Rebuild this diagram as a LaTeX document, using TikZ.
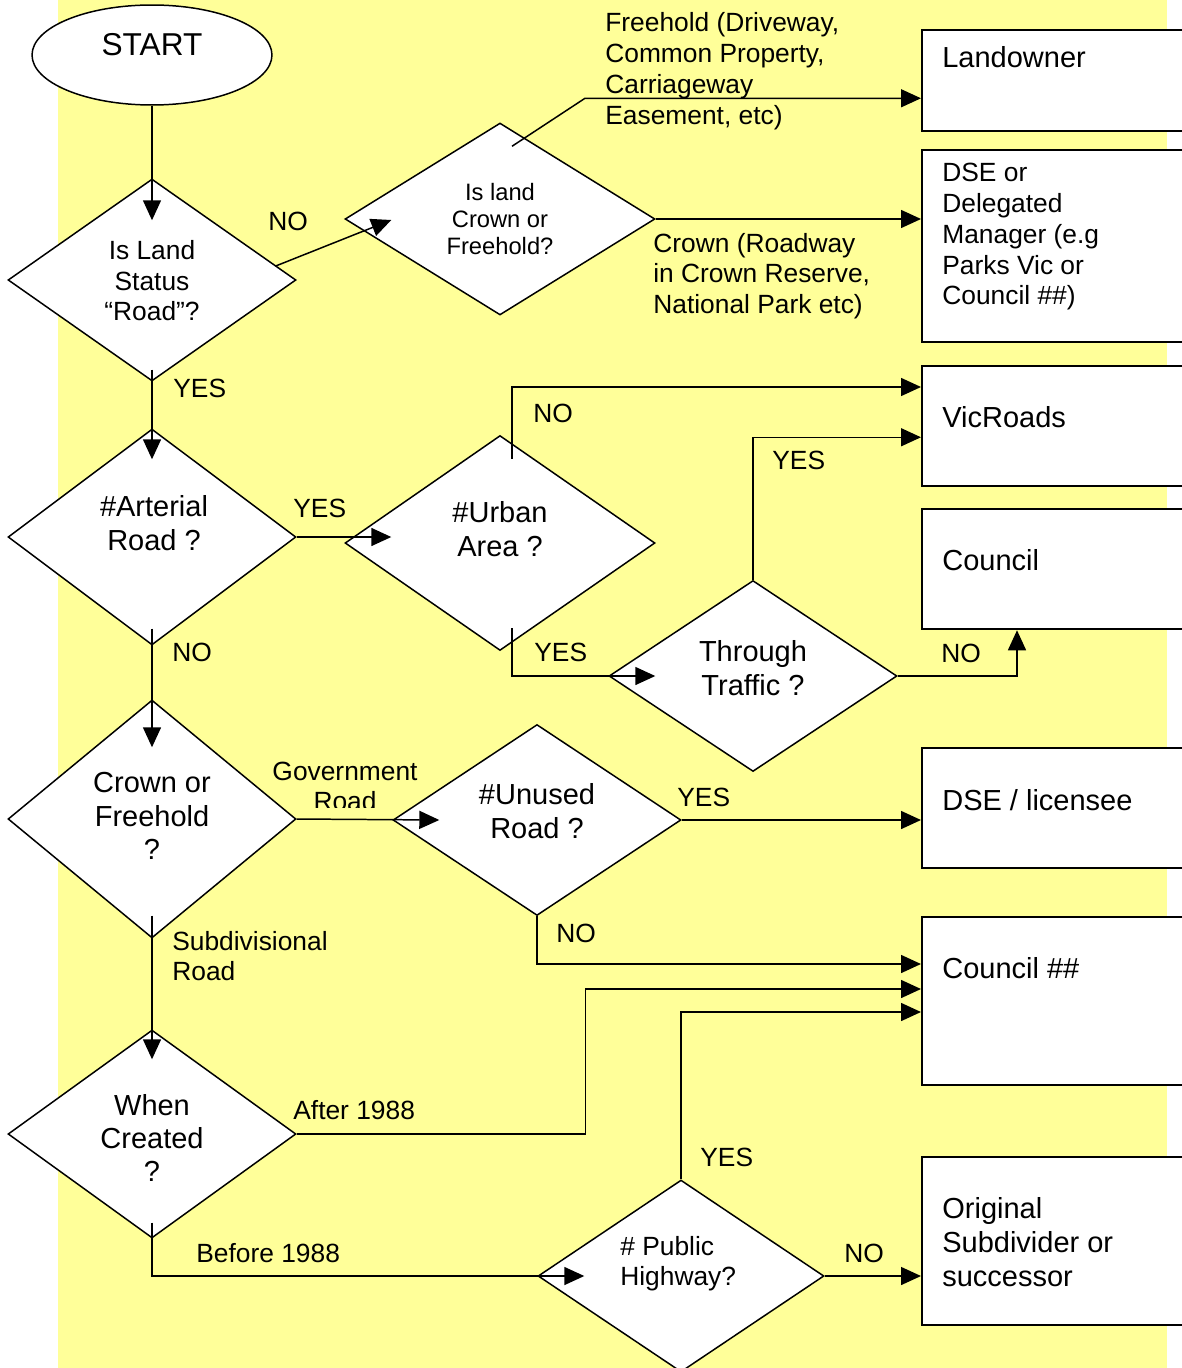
\documentclass[tikz,border=0pt]{standalone}
\usepackage{fontspec}
\setmainfont{Liberation Sans}
\usepackage{tikz}
\usetikzlibrary{shapes.geometric, arrows.meta}
\usetikzlibrary{calc}
\definecolor{noteYellow}{HTML}{FFFF99}

\begin{document}
\begin{tikzpicture}[
  x=0.02cm, y=-0.02cm,
  flow/.style={line width=0.85pt, -{Triangle[length=0.4cm, width=0.36cm]}},
  edgeLabel/.style={anchor=west, inner sep=0pt, align=left, font=\fontsize{15}{17.5}\selectfont},
  boxLabel/.style={anchor=west, inner sep=0pt, align=left, font=\fontsize{16.5}{19.4}\selectfont},
  askLabel/.style={inner sep=0pt, align=center, font=\fontsize{16.5}{19}\selectfont}
]
	\tikzstyle{decision} = [diamond, draw=black, fill=white, line width=0.85pt, inner sep=0pt]
	\tikzstyle{outcome} = [rectangle, draw=black, fill=white, line width=1.3pt, anchor=north west, minimum width=5.4cm, inner sep=0pt]
	\tikzstyle{terminal} = [ellipse, draw=black, fill=white, line width=0.85pt, minimum width=4.8cm, minimum height=2cm, inner sep=0pt]

	% sheet
	\useasboundingbox (0,0) rectangle (1182,1368);
	\clip (0,0) rectangle (1182,1368);
	\fill[white] (0,0) rectangle (1182,1368);
	\fill[noteYellow] (58,0) rectangle (1167,1368);

	% questions
	\node (start) [terminal] at (152,55) {};
	\node (isRoad) [decision, minimum width=5.76cm, minimum height=4.04cm] at (152,280) {};
	\node (crownFree) [decision, minimum width=6.2cm, minimum height=3.84cm] at (500,219) {};
	\node (arterial) [decision, minimum width=5.76cm, minimum height=4.32cm] at (152,537) {};
	\node (urban) [decision, minimum width=6.2cm, minimum height=4.3cm] at (500,543) {};
	\node (through) [decision, minimum width=5.76cm, minimum height=3.82cm] at (753,676) {};
	\node (tenure) [decision, minimum width=5.76cm, minimum height=4.76cm] at (152,819) {};
	\node (unused) [decision, minimum width=5.76cm, minimum height=3.82cm] at (537,820) {};
	\node (created) [decision, minimum width=5.76cm, minimum height=4.16cm] at (152,1134) {};
	\node (highway) [decision, minimum width=5.72cm, minimum height=3.84cm] at (681,1276) {};

	% who looks after it
	\node (landowner) [outcome, minimum height=2.02cm] at (921,29) {};
	\node (dseManager) [outcome, minimum height=3.84cm] at (921,149) {};
	\node (vicroads) [outcome, minimum height=2.4cm] at (921,365) {};
	\node (council) [outcome, minimum height=2.4cm] at (921,508) {};
	\node (dseLicensee) [outcome, minimum height=2.4cm] at (921,747) {};
	\node (councilHash) [outcome, minimum height=3.36cm] at (921,916) {};
	\node (subdivider) [outcome, minimum height=3.36cm] at (921,1156) {};

	% connectors
	\draw[flow] (start.south) -- ($(isRoad.north)+(0,42)$);
	\draw[flow] ($(isRoad.east)+(-21,-14)$) -- ($(crownFree.west)+(47,1)$);
	\draw[flow] ($(crownFree.north)+(12,24)$) -- ++(73,-48) coordinate (freeBend) -- (freeBend -| landowner.west);
	\draw[flow] (crownFree.east) -- (dseManager.west |- crownFree.east);
	\draw[flow] ($(isRoad.south)+(0,-12)$) -- ($(arterial.north)+(0,31)$);
	\draw[flow] (arterial.east) -- ($(urban.west)+(47,-6)$);
	\draw[flow] ($(urban.north)+(12,24)$) |- ($(vicroads.north west)+(0,22)$);
	\draw[flow] ($(urban.south)+(12,-23)$) |- ($(through.west)+(47,0)$);
	\draw[flow] (through.north) |- ($(vicroads.south west)+(0,-50)$);
	\draw[flow] (through.east) -| ($(council.south west)+(96,0)$);
	\draw[flow] ($(arterial.south)+(0,-17)$) -- ($(tenure.north)+(0,48)$);
	\draw[flow] (tenure.east) -- ($(unused.west)+(47,0)$);
	\draw[flow] (unused.east) -- (dseLicensee.west |- unused.east);
	\draw[flow] (unused.south) |- ($(councilHash.north west)+(0,48)$);
	\draw[flow] ($(tenure.south)+(0,-23)$) -- ($(created.north)+(0,30)$);
	\draw[flow] (created.east) -- ++(289,0) |- ($(councilHash.north west)+(0,73)$);
	\draw[flow] ($(created.south)+(0,-16)$) |- ($(highway.west)+(47,0)$);
	\draw[flow] (highway.north) |- ($(councilHash.north west)+(0,96)$);
	\draw[flow] (highway.east) -- (subdivider.west |- highway.east);

	% question texts
	\node (startText) [askLabel, font=\fontsize{18}{21}\selectfont] at (152,45) {START};
	\node (isRoadText) [askLabel, font=\fontsize{15}{17.4}\selectfont] at (152,281) {Is Land\\Status\\“Road”?};
	\node (crownFreeText) [askLabel, font=\fontsize{13.5}{15.4}\selectfont] at (500,219) {Is land\\Crown or\\Freehold?};
	\node (arterialText) [askLabel] at (154,523) {\#Arterial\\Road ?};
	\node (urbanText) [askLabel] at (500,529) {\#Urban\\Area ?};
	\node (throughText) [askLabel] at (753,668) {Through\\Traffic ?};
	\node (tenureText) [askLabel] at (152,816) {Crown or\\Freehold\\?};
	\node (unusedText) [askLabel] at (537,811) {\#Unused\\Road ?};
	\node (createdText) [askLabel] at (152,1138) {When\\Created\\?};
	\node (highwayText) [edgeLabel, font=\fontsize{15}{17}\selectfont] at (620,1264) {\# Public\\Highway?};

	% outcome texts
	\node (landownerText) [boxLabel] at (942,57) {Landowner};
	\node (dseManagerText) [boxLabel, font=\fontsize{15}{17.5}\selectfont] at (942,237) {DSE or\\Delegated\\Manager (e.g\\Parks Vic or\\Council \#\#)};
	\node (vicroadsText) [boxLabel] at (942,417) {VicRoads};
	\node (councilText) [boxLabel] at (942,560) {Council};
	\node (dseLicenseeText) [boxLabel] at (942,800) {DSE / licensee};
	\node (councilHashText) [boxLabel] at (942,968) {Council \#\#};
	\node (subdividerText) [boxLabel] at (942,1242) {Original\\Subdivider or\\successor};

	% answers on the connectors
	\node (noRoad) [edgeLabel] at (268,221) {NO};
	\node (freeholdLabel) [edgeLabel, font=\fontsize{15}{17.6}\selectfont] at (605,71) {Freehold (Driveway,\\Common Property,\\Carriageway\\Easement, etc)};
	\node (crownLabel) [edgeLabel] at (653,276) {Crown (Roadway\\in Crown Reserve,\\National Park etc)};
	\node (yesRoad) [edgeLabel] at (173,388) {YES};
	\node (yesArterial) [edgeLabel] at (293,508) {YES};
	\node (noArterial) [edgeLabel] at (172,652) {NO};
	\node (noUrban) [edgeLabel] at (533,413) {NO};
	\node (yesUrban) [edgeLabel] at (534,652) {YES};
	\node (yesThrough) [edgeLabel] at (772,460) {YES};
	\node (noThrough) [edgeLabel] at (941,653) {NO};
	\begin{scope}
		\clip (250,740) rectangle (450,807);
		\node (governmentLabel) [askLabel, font=\fontsize{15}{17}\selectfont] at (345,786) {Government\\Road};
	\end{scope}
	\node (yesUnused) [edgeLabel] at (677,797) {YES};
	\node (noUnused) [edgeLabel] at (556,933) {NO};
	\node (subdivisionalLabel) [edgeLabel] at (172,956) {Subdivisional\\Road};
	\node (afterLabel) [edgeLabel] at (293,1110) {After 1988};
	\node (beforeLabel) [edgeLabel] at (196,1253) {Before 1988};
	\node (yesHighway) [edgeLabel] at (700,1157) {YES};
	\node (noHighway) [edgeLabel] at (844,1253) {NO};

\end{tikzpicture}
\end{document}
